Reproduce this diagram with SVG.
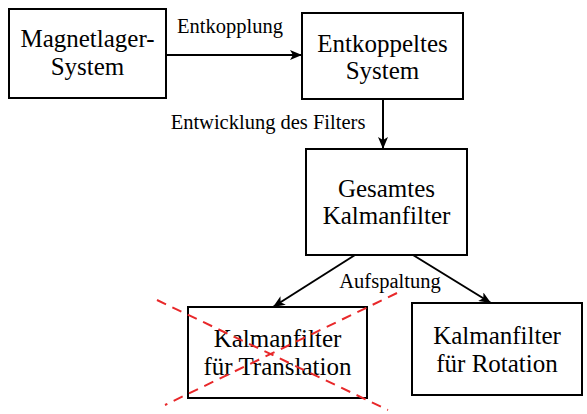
<svg xmlns="http://www.w3.org/2000/svg" width="587" height="414" viewBox="0 0 587 414">
<defs>
<style>
.box{fill:#fff;stroke:#000;stroke-width:2}
.t{font-family:'Liberation Serif','DejaVu Serif',serif;font-size:25px;text-anchor:middle;fill:#000}
.l{font-family:'Liberation Serif','DejaVu Serif',serif;font-size:20.5px;text-anchor:middle;fill:#000}
.c{stroke:#000;stroke-width:2;fill:none;marker-end:url(#ah)}
.x{stroke:#e8282a;stroke-width:2;stroke-dasharray:10,7;fill:none}
</style>
<marker id="ah" viewBox="0 0 12 10" refX="12" refY="5" markerWidth="12" markerHeight="10" markerUnits="userSpaceOnUse" orient="auto">
<path d="M0,0 L12,5 L0,10 L3,5 Z" fill="#000"/>
</marker>
</defs>
<rect width="587" height="414" fill="#fff"/>
<g id="connectors">
<line class="c" x1="166" y1="55" x2="302" y2="55"/>
<line class="c" x1="383" y1="99" x2="383" y2="149"/>
<line class="c" x1="355" y1="255" x2="273" y2="307"/>
<line class="c" x1="413" y1="255" x2="491" y2="303"/>
<text class="l" font-family="Liberation Serif" x="230" y="33">Entkopplung</text>
<text class="l" font-family="Liberation Serif" x="268" y="129">Entwicklung des Filters</text>
<text class="l" font-family="Liberation Serif" x="390" y="288">Aufspaltung</text>
</g>
<g id="n1">
<rect class="box" x="9" y="9" width="157" height="89"/>
<text class="t" font-family="Liberation Serif" x="87.5" y="47">Magnetlager-</text>
<text class="t" font-family="Liberation Serif" x="87.5" y="75">System</text>
</g>
<g id="n2">
<rect class="box" x="302" y="13" width="161" height="86"/>
<text class="t" font-family="Liberation Serif" x="382.5" y="52">Entkoppeltes</text>
<text class="t" font-family="Liberation Serif" x="382.5" y="79">System</text>
</g>
<g id="n3">
<rect class="box" x="306" y="149" width="161" height="106"/>
<text class="t" font-family="Liberation Serif" x="386.5" y="197">Gesamtes</text>
<text class="t" font-family="Liberation Serif" x="386.5" y="224">Kalmanfilter</text>
</g>
<g id="n4">
<rect class="box" x="188" y="307" width="179" height="91"/>
<text class="t" font-family="Liberation Serif" x="277.5" y="347">Kalmanfilter</text>
<text class="t" font-family="Liberation Serif" x="277.5" y="375">für Translation</text>
<line class="x" x1="157" y1="300" x2="388" y2="410"/>
<line class="x" x1="397" y1="293" x2="165" y2="405"/>
</g>
<g id="n5">
<rect class="box" x="412" y="303" width="170" height="92"/>
<text class="t" font-family="Liberation Serif" x="497" y="344">Kalmanfilter</text>
<text class="t" font-family="Liberation Serif" x="497" y="372">für Rotation</text>
</g>
</svg>
